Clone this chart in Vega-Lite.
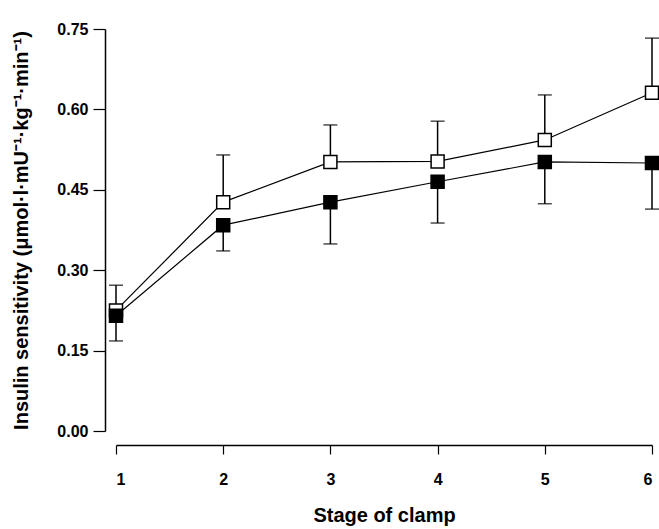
{
  "$schema": "https://vega.github.io/schema/vega-lite/v6.json",
  "width": 536,
  "height": 402,
  "autosize": "none",
  "padding": {"left": 116, "top": 29, "right": 7, "bottom": 98},
  "background": "white",
  "config": {
    "view": {"stroke": null},
    "axis": {"font": "Liberation Sans", "labelFont": "Liberation Sans", "titleFont": "Liberation Sans", "labelColor": "black", "titleColor": "black", "domainColor": "black", "tickColor": "black", "grid": false}
  },
  "data": {
    "values": [
      {"stage": 1, "group": "open", "mean": 0.225, "err": 0.272},
      {"stage": 2, "group": "open", "mean": 0.427, "err": 0.515},
      {"stage": 3, "group": "open", "mean": 0.502, "err": 0.571},
      {"stage": 4, "group": "open", "mean": 0.503, "err": 0.578},
      {"stage": 5, "group": "open", "mean": 0.543, "err": 0.627},
      {"stage": 6, "group": "open", "mean": 0.631, "err": 0.733},
      {"stage": 1, "group": "filled", "mean": 0.215, "err": 0.168},
      {"stage": 2, "group": "filled", "mean": 0.384, "err": 0.336},
      {"stage": 3, "group": "filled", "mean": 0.427, "err": 0.349},
      {"stage": 4, "group": "filled", "mean": 0.465, "err": 0.388},
      {"stage": 5, "group": "filled", "mean": 0.502, "err": 0.424},
      {"stage": 6, "group": "filled", "mean": 0.500, "err": 0.414}
    ]
  },
  "encoding": {
    "x": {
      "field": "stage", "type": "quantitative",
      "scale": {"domain": [1, 6], "nice": false, "zero": false},
      "axis": {
        "title": "Stage of clamp", "values": [1, 2, 3, 4, 5, 6], "format": "d",
        "offset": 14, "tickSize": 9, "labelPadding": 17,
        "labelFontSize": 16, "labelFontWeight": "bold",
        "titleFontSize": 20, "titleFontWeight": "bold", "titlePadding": 18,
        "domainWidth": 1.5, "tickWidth": 1.2
      }
    },
    "y": {
      "field": "mean", "type": "quantitative",
      "scale": {"domain": [0, 0.75], "nice": false},
      "axis": {
        "title": "Insulin sensitivity (μmol·l·mU⁻¹·kg⁻¹·min⁻¹)",
        "values": [0, 0.15, 0.3, 0.45, 0.6, 0.75], "format": ".2f",
        "offset": 11, "tickSize": 12, "labelPadding": 5,
        "labelFontSize": 16, "labelFontWeight": "bold",
        "titleFontSize": 20, "titleFontWeight": "bold", "titlePadding": 25,
        "domainWidth": 1.5, "tickWidth": 1.2
      }
    }
  },
  "layer": [
    {
      "mark": {"type": "rule", "color": "black", "strokeWidth": 1.5, "clip": false},
      "encoding": {"y2": {"field": "err"}}
    },
    {
      "mark": {"type": "tick", "orient": "horizontal", "color": "black", "thickness": 1.5, "size": 14, "clip": false},
      "encoding": {"y": {"field": "err", "type": "quantitative"}}
    },
    {
      "mark": {"type": "line", "color": "black", "strokeWidth": 1.2, "clip": false},
      "encoding": {"detail": {"field": "group"}}
    },
    {
      "mark": {"type": "square", "size": 169, "opacity": 1, "stroke": "black", "strokeWidth": 1.5, "clip": false},
      "encoding": {
        "fill": {
          "field": "group", "type": "nominal",
          "scale": {"domain": ["open", "filled"], "range": ["white", "black"]},
          "legend": null
        }
      }
    }
  ]
}
